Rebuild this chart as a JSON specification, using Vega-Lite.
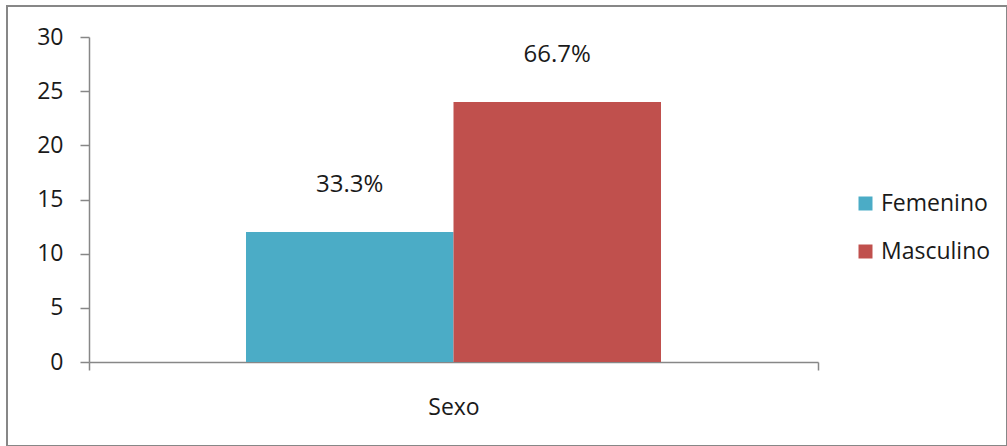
{
  "$schema": "https://vega.github.io/schema/vega-lite/v6.json",
  "width": 1000,
  "height": 440,
  "autosize": {"type": "none"},
  "padding": {"left": 7, "top": 6, "right": 0, "bottom": 0},
  "background": "white",
  "config": {
    "view": {"stroke": "#878787", "strokeWidth": 2},
    "font": "Open Sans"
  },
  "data": {
    "values": [
      {"grupo": "Sexo", "sexo": "Femenino", "n": 12, "pct": "33.3%"},
      {"grupo": "Sexo", "sexo": "Masculino", "n": 24, "pct": "66.7%"}
    ]
  },
  "encoding": {
    "x": {
      "field": "grupo",
      "type": "nominal",
      "scale": {"range": [82, 811], "paddingInner": 0, "paddingOuter": 0},
      "axis": {
        "title": null,
        "offset": -84,
        "tickBand": "extent",
        "tickSize": 8,
        "labelAngle": 0,
        "labelPadding": 26,
        "labelFontSize": 23,
        "labelColor": "#1a1a1a",
        "labelFont": "Open Sans",
        "domainColor": "#878787",
        "tickColor": "#878787",
        "domainWidth": 1.5,
        "tickWidth": 1.5
      }
    },
    "xOffset": {
      "field": "sexo",
      "type": "nominal",
      "scale": {"paddingOuter": 0.7566, "paddingInner": 0}
    },
    "y": {
      "field": "n",
      "type": "quantitative",
      "scale": {"domain": [0, 30], "range": [356, 31], "nice": false},
      "axis": {
        "title": null,
        "offset": -82,
        "values": [0, 5, 10, 15, 20, 25, 30],
        "grid": false,
        "tickSize": 9,
        "labelPadding": 17,
        "labelFontSize": 23,
        "labelColor": "#1a1a1a",
        "labelFont": "Open Sans",
        "domainColor": "#878787",
        "tickColor": "#878787",
        "domainWidth": 1.5,
        "tickWidth": 1.5
      }
    }
  },
  "layer": [
    {
      "mark": {"type": "bar"},
      "encoding": {
        "color": {
          "field": "sexo",
          "type": "nominal",
          "scale": {"domain": ["Femenino", "Masculino"], "range": ["#4BACC6", "#C0504D"]},
          "legend": {
            "orient": "none",
            "legendX": 847,
            "legendY": 186,
            "title": null,
            "symbolType": "square",
            "symbolSize": 196,
            "symbolStrokeWidth": 0,
            "labelFontSize": 23,
            "labelColor": "#1a1a1a",
            "labelFont": "Open Sans",
            "labelOffset": 4,
            "rowPadding": 24,
            "padding": 0
          }
        }
      }
    },
    {
      "mark": {"type": "text", "dy": -47, "fontSize": 24, "color": "#1a1a1a", "font": "Open Sans"},
      "encoding": {"text": {"field": "pct", "type": "nominal"}}
    }
  ]
}
